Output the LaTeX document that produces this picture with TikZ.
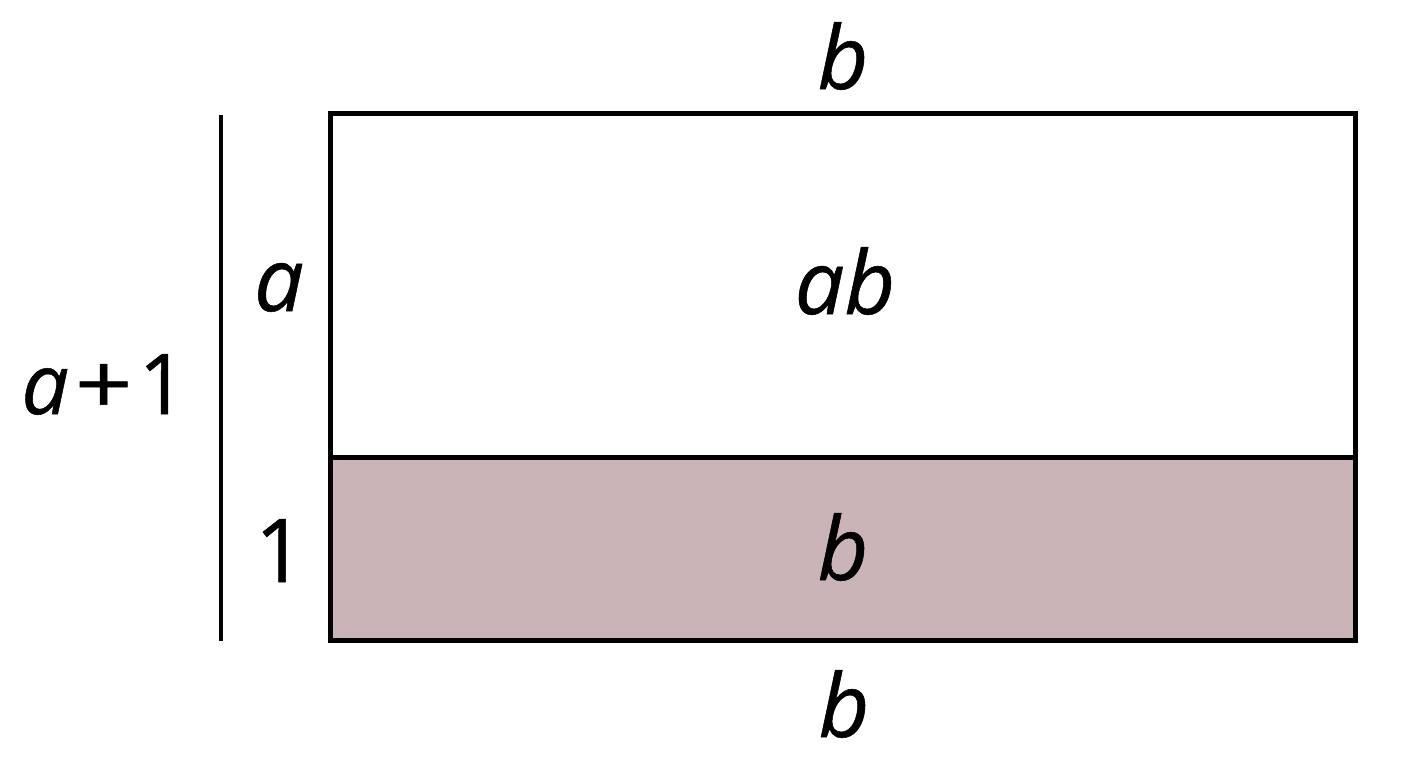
\documentclass[tikz,border=0pt]{standalone}
\usepackage{fontspec}
\setmainfont{Open Sans}[ItalicFeatures={FakeBold=0.6},UprightFeatures={FakeBold=0.6}]
\definecolor{pinkfill}{HTML}{CBB4B7}
\begin{document}
\begin{tikzpicture}[x=1pt,y=-1pt,
  lbl/.style={anchor=base,inner sep=0pt,font=\fontsize{88}{104}\selectfont},
  small/.style={anchor=base,inner sep=0pt,font=\fontsize{84}{100}\selectfont},
  edge/.style={line width=5pt,black}]
\useasboundingbox (0,0) rectangle (1408,768);
\fill[white] (0,0) rectangle (1408,768);
\coordinate (tl) at (330,113);
\coordinate (ml) at (330,457);
\coordinate (mr) at (1355,457);
\coordinate (br) at (1355,640);
\coordinate (vt) at (221,115);
\coordinate (vb) at (221,641);
\fill[pinkfill] (ml) rectangle (br);
\draw[edge] (tl) rectangle (br);
\draw[edge] (ml) -- (mr);
\draw[line width=4.5pt] (vt) -- (vb);
\node[lbl] (btop) at (843,89) {\itshape b};
\node[lbl] (la) at (279,311) {\itshape a};
\node[lbl] (ab) at (845,314) {\itshape ab};
\node[small] (apl) at (104,414) {\itshape a\kern6pt\upshape{\scalebox{1.2}[1]{+}}\kern6pt 1};
\node[lbl] (one) at (280,582) {1};
\node[lbl] (bpink) at (843,580) {\itshape b};
\node[lbl] (bbot) at (844,737) {\itshape b};
\end{tikzpicture}
\end{document}
